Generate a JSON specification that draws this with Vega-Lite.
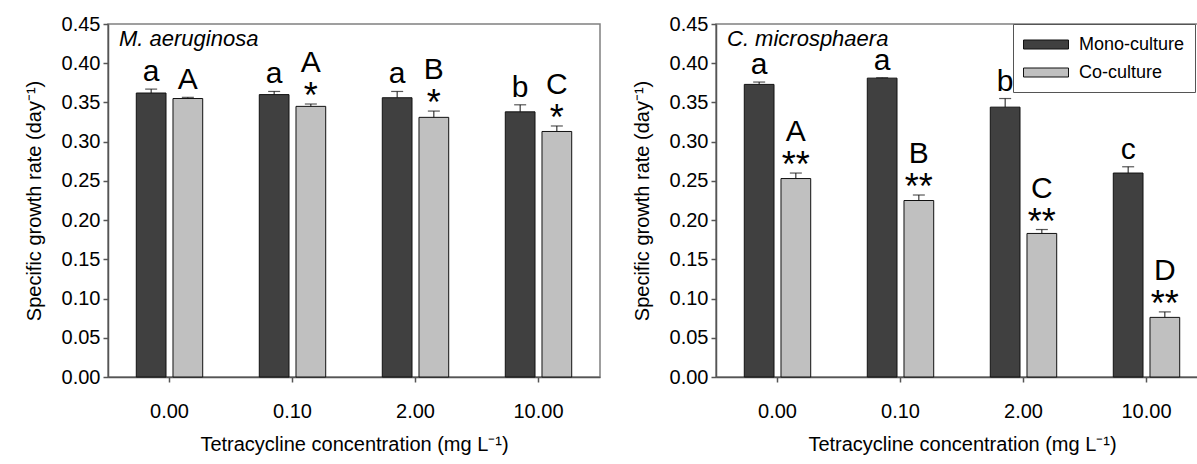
{
  "$schema": "https://vega.github.io/schema/vega-lite/v6.json",
  "background": "white",
  "padding": {"left": 23, "top": 13, "right": 0, "bottom": 0},
  "config": {
    "font": "Liberation Sans",
    "view": {"stroke": "#808080", "strokeWidth": 1.5},
    "axis": {"domainColor": "#555555", "tickColor": "#555555", "domainWidth": 1.5, "tickWidth": 1.5, "labelColor": "#000000", "titleColor": "#000000", "grid": false, "labelFontSize": 20, "titleFontSize": 20, "titleFontWeight": "normal", "tickSize": 5, "labelOverlap": false},
    "concat": {"spacing": 30},
    "title": {"fontWeight": "normal", "color": "#000000"}
  },
  "datasets": {
    "rates": [
      {"species": "M. aeruginosa", "conc": "0.00", "culture": "Mono-culture", "rate": 0.362, "upper": 0.367, "letter": "a", "star": ""},
      {"species": "M. aeruginosa", "conc": "0.00", "culture": "Co-culture", "rate": 0.355, "upper": 0.3565, "letter": "A", "star": ""},
      {"species": "M. aeruginosa", "conc": "0.10", "culture": "Mono-culture", "rate": 0.360, "upper": 0.364, "letter": "a", "star": ""},
      {"species": "M. aeruginosa", "conc": "0.10", "culture": "Co-culture", "rate": 0.345, "upper": 0.348, "letter": "A", "star": "*"},
      {"species": "M. aeruginosa", "conc": "2.00", "culture": "Mono-culture", "rate": 0.356, "upper": 0.364, "letter": "a", "star": ""},
      {"species": "M. aeruginosa", "conc": "2.00", "culture": "Co-culture", "rate": 0.331, "upper": 0.339, "letter": "B", "star": "*"},
      {"species": "M. aeruginosa", "conc": "10.00", "culture": "Mono-culture", "rate": 0.338, "upper": 0.347, "letter": "b", "star": ""},
      {"species": "M. aeruginosa", "conc": "10.00", "culture": "Co-culture", "rate": 0.313, "upper": 0.320, "letter": "C", "star": "*"},
      {"species": "C. microsphaera", "conc": "0.00", "culture": "Mono-culture", "rate": 0.373, "upper": 0.376, "letter": "a", "star": ""},
      {"species": "C. microsphaera", "conc": "0.00", "culture": "Co-culture", "rate": 0.253, "upper": 0.260, "letter": "A", "star": "**"},
      {"species": "C. microsphaera", "conc": "0.10", "culture": "Mono-culture", "rate": 0.381, "upper": 0.3815, "letter": "a", "star": ""},
      {"species": "C. microsphaera", "conc": "0.10", "culture": "Co-culture", "rate": 0.225, "upper": 0.232, "letter": "B", "star": "**"},
      {"species": "C. microsphaera", "conc": "2.00", "culture": "Mono-culture", "rate": 0.344, "upper": 0.355, "letter": "b", "star": ""},
      {"species": "C. microsphaera", "conc": "2.00", "culture": "Co-culture", "rate": 0.183, "upper": 0.188, "letter": "C", "star": "**"},
      {"species": "C. microsphaera", "conc": "10.00", "culture": "Mono-culture", "rate": 0.260, "upper": 0.268, "letter": "c", "star": ""},
      {"species": "C. microsphaera", "conc": "10.00", "culture": "Co-culture", "rate": 0.076, "upper": 0.083, "letter": "D", "star": "**"}
    ]
  },
  "resolve": {"legend": {"color": "independent"}},
  "hconcat": [
    {
      "width": 492,
      "height": 353,
      "data": {"name": "rates"},
      "transform": [{"filter": "datum.species === 'M. aeruginosa'"}],
      "title": {"text": "M. aeruginosa", "anchor": "start", "frame": "group", "orient": "top", "offset": -25, "dx": 11, "dy": 29, "baseline": "alphabetic", "fontSize": 22, "fontStyle": "italic", "fontWeight": "normal"},
      "encoding": {
        "x": {"field": "conc", "type": "nominal", "sort": ["0.00", "0.10", "2.00", "10.00"], "scale": {"paddingInner": 0.46, "paddingOuter": 0.23}, "axis": {"title": "Tetracycline concentration (mg L⁻¹)", "labelAngle": 0, "labelPadding": 19, "titlePadding": 13}},
        "xOffset": {"field": "culture", "type": "nominal", "sort": ["Mono-culture", "Co-culture"], "scale": {"paddingInner": 0.19, "paddingOuter": 0}}
      },
      "layer": [
        {
          "mark": {"type": "bar", "stroke": "#111111", "strokeWidth": 1},
          "encoding": {
            "y": {"field": "rate", "type": "quantitative", "scale": {"domain": [0, 0.45], "nice": false}, "axis": {"title": "Specific growth rate (day⁻¹)", "values": [0, 0.05, 0.1, 0.15, 0.2, 0.25, 0.3, 0.35, 0.4, 0.45], "format": ".2f", "labelPadding": 3, "titlePadding": 17, "labelOverlap": false, "labelBound": false, "labelFlush": false}},
            "color": {"field": "culture", "type": "nominal", "scale": {"domain": ["Mono-culture", "Co-culture"], "range": ["#404040", "#c0c0c0"]}, "legend": null}
          }
        },
        {
          "mark": {"type": "rule", "color": "#111111", "strokeWidth": 1},
          "encoding": {"y": {"field": "rate", "type": "quantitative", "axis": {"title": "Specific growth rate (day⁻¹)", "values": [0, 0.05, 0.1, 0.15, 0.2, 0.25, 0.3, 0.35, 0.4, 0.45], "format": ".2f", "labelPadding": 3, "titlePadding": 17, "labelOverlap": false, "labelBound": false, "labelFlush": false}}, "y2": {"field": "upper"}}
        },
        {
          "mark": {"type": "tick", "color": "#111111", "size": 12, "thickness": 1.2},
          "encoding": {"y": {"field": "upper", "type": "quantitative", "axis": {"title": "Specific growth rate (day⁻¹)", "values": [0, 0.05, 0.1, 0.15, 0.2, 0.25, 0.3, 0.35, 0.4, 0.45], "format": ".2f", "labelPadding": 3, "titlePadding": 17, "labelOverlap": false, "labelBound": false, "labelFlush": false}}}
        },
        {
          "transform": [{"filter": "datum.star === ''"}],
          "mark": {"type": "text", "fontSize": 30, "baseline": "alphabetic", "dy": -8, "color": "#000000"},
          "encoding": {"y": {"field": "upper", "type": "quantitative", "axis": {"title": "Specific growth rate (day⁻¹)", "values": [0, 0.05, 0.1, 0.15, 0.2, 0.25, 0.3, 0.35, 0.4, 0.45], "format": ".2f", "labelPadding": 3, "titlePadding": 17, "labelOverlap": false, "labelBound": false, "labelFlush": false}}, "text": {"field": "letter"}}
        },
        {
          "transform": [{"filter": "datum.star !== ''"}],
          "mark": {"type": "text", "fontSize": 30, "baseline": "alphabetic", "dy": -32, "color": "#000000"},
          "encoding": {"y": {"field": "upper", "type": "quantitative", "axis": {"title": "Specific growth rate (day⁻¹)", "values": [0, 0.05, 0.1, 0.15, 0.2, 0.25, 0.3, 0.35, 0.4, 0.45], "format": ".2f", "labelPadding": 3, "titlePadding": 17, "labelOverlap": false, "labelBound": false, "labelFlush": false}}, "text": {"field": "letter"}}
        },
        {
          "transform": [{"filter": "datum.star !== ''"}],
          "mark": {"type": "text", "fontSize": 36, "baseline": "alphabetic", "dy": 4, "color": "#000000"},
          "encoding": {"y": {"field": "upper", "type": "quantitative", "axis": {"title": "Specific growth rate (day⁻¹)", "values": [0, 0.05, 0.1, 0.15, 0.2, 0.25, 0.3, 0.35, 0.4, 0.45], "format": ".2f", "labelPadding": 3, "titlePadding": 17, "labelOverlap": false, "labelBound": false, "labelFlush": false}}, "text": {"field": "star"}}
        }
      ]
    },
    {
      "width": 492,
      "height": 353,
      "data": {"name": "rates"},
      "transform": [{"filter": "datum.species === 'C. microsphaera'"}],
      "title": {"text": "C. microsphaera", "anchor": "start", "frame": "group", "orient": "top", "offset": -25, "dx": 11, "dy": 29, "baseline": "alphabetic", "fontSize": 22, "fontStyle": "italic", "fontWeight": "normal"},
      "encoding": {
        "x": {"field": "conc", "type": "nominal", "sort": ["0.00", "0.10", "2.00", "10.00"], "scale": {"paddingInner": 0.46, "paddingOuter": 0.23}, "axis": {"title": "Tetracycline concentration (mg L⁻¹)", "labelAngle": 0, "labelPadding": 19, "titlePadding": 13}},
        "xOffset": {"field": "culture", "type": "nominal", "sort": ["Mono-culture", "Co-culture"], "scale": {"paddingInner": 0.19, "paddingOuter": 0}}
      },
      "layer": [
        {
          "mark": {"type": "bar", "stroke": "#111111", "strokeWidth": 1},
          "encoding": {
            "y": {"field": "rate", "type": "quantitative", "scale": {"domain": [0, 0.45], "nice": false}, "axis": {"title": "Specific growth rate (day⁻¹)", "values": [0, 0.05, 0.1, 0.15, 0.2, 0.25, 0.3, 0.35, 0.4, 0.45], "format": ".2f", "labelPadding": 3, "titlePadding": 17, "labelOverlap": false, "labelBound": false, "labelFlush": false}},
            "color": {"field": "culture", "type": "nominal", "scale": {"domain": ["Mono-culture", "Co-culture"], "range": ["#404040", "#c0c0c0"]}, "legend": {"title": null, "orient": "none", "legendX": 297, "legendY": 0, "strokeColor": "#555555", "fillColor": "#ffffff", "padding": 10, "labelFontSize": 18, "labelColor": "#000000", "symbolType": "M-1,-0.45H3.5V0.45H-1Z", "symbolSize": 400, "symbolStrokeColor": "#111111", "symbolStrokeWidth": 1, "rowPadding": 8, "labelOffset": 35}}
          }
        },
        {
          "mark": {"type": "rule", "color": "#111111", "strokeWidth": 1},
          "encoding": {"y": {"field": "rate", "type": "quantitative", "axis": {"title": "Specific growth rate (day⁻¹)", "values": [0, 0.05, 0.1, 0.15, 0.2, 0.25, 0.3, 0.35, 0.4, 0.45], "format": ".2f", "labelPadding": 3, "titlePadding": 17, "labelOverlap": false, "labelBound": false, "labelFlush": false}}, "y2": {"field": "upper"}}
        },
        {
          "mark": {"type": "tick", "color": "#111111", "size": 12, "thickness": 1.2},
          "encoding": {"y": {"field": "upper", "type": "quantitative", "axis": {"title": "Specific growth rate (day⁻¹)", "values": [0, 0.05, 0.1, 0.15, 0.2, 0.25, 0.3, 0.35, 0.4, 0.45], "format": ".2f", "labelPadding": 3, "titlePadding": 17, "labelOverlap": false, "labelBound": false, "labelFlush": false}}}
        },
        {
          "transform": [{"filter": "datum.star === ''"}],
          "mark": {"type": "text", "fontSize": 30, "baseline": "alphabetic", "dy": -8, "color": "#000000"},
          "encoding": {"y": {"field": "upper", "type": "quantitative", "axis": {"title": "Specific growth rate (day⁻¹)", "values": [0, 0.05, 0.1, 0.15, 0.2, 0.25, 0.3, 0.35, 0.4, 0.45], "format": ".2f", "labelPadding": 3, "titlePadding": 17, "labelOverlap": false, "labelBound": false, "labelFlush": false}}, "text": {"field": "letter"}}
        },
        {
          "transform": [{"filter": "datum.star !== ''"}],
          "mark": {"type": "text", "fontSize": 30, "baseline": "alphabetic", "dy": -32, "color": "#000000"},
          "encoding": {"y": {"field": "upper", "type": "quantitative", "axis": {"title": "Specific growth rate (day⁻¹)", "values": [0, 0.05, 0.1, 0.15, 0.2, 0.25, 0.3, 0.35, 0.4, 0.45], "format": ".2f", "labelPadding": 3, "titlePadding": 17, "labelOverlap": false, "labelBound": false, "labelFlush": false}}, "text": {"field": "letter"}}
        },
        {
          "transform": [{"filter": "datum.star !== ''"}],
          "mark": {"type": "text", "fontSize": 36, "baseline": "alphabetic", "dy": 4, "color": "#000000"},
          "encoding": {"y": {"field": "upper", "type": "quantitative", "axis": {"title": "Specific growth rate (day⁻¹)", "values": [0, 0.05, 0.1, 0.15, 0.2, 0.25, 0.3, 0.35, 0.4, 0.45], "format": ".2f", "labelPadding": 3, "titlePadding": 17, "labelOverlap": false, "labelBound": false, "labelFlush": false}}, "text": {"field": "star"}}
        }
      ]
    }
  ]
}
